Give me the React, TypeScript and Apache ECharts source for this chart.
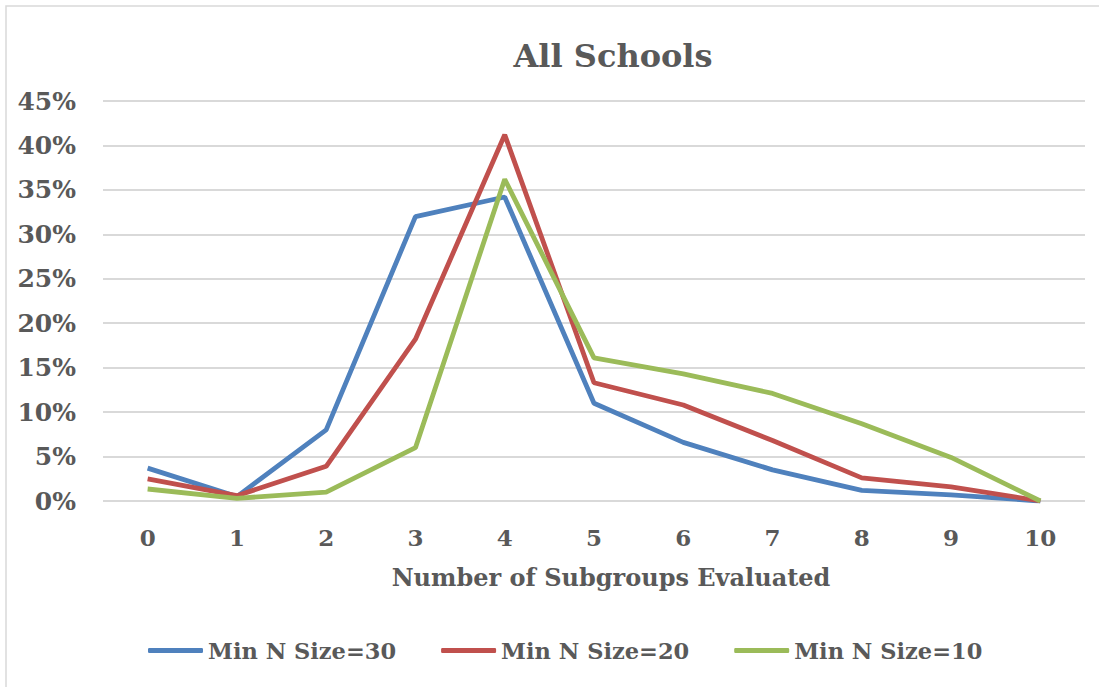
import React, { useEffect, useRef } from "react";
import * as echarts from "echarts";

const categories = ["0", "1", "2", "3", "4", "5", "6", "7", "8", "9", "10"];
const minN30 = [3.7, 0.5, 8.0, 32.0, 34.2, 11.0, 6.6, 3.5, 1.2, 0.7, 0];
const minN20 = [2.5, 0.6, 3.9, 18.2, 41.2, 13.3, 10.8, 6.8, 2.6, 1.6, 0];
const minN10 = [1.35, 0.3, 1.0, 6.0, 36.2, 16.1, 14.3, 12.1, 8.7, 4.9, 0];
const seriesNames = ["Min N Size=30", "Min N Size=20", "Min N Size=10"];
const colors = ["#4F81BD", "#C0504D", "#9BBB59"];

const FONT = "'DejaVu Serif', serif";
const TEXT = "#595959";

export default function App() {
  const ref = useRef<HTMLDivElement>(null);
  useEffect(() => {
    if (!ref.current) return;
    const chart = echarts.init(ref.current, undefined, { renderer: "svg" });
    const data = [minN30, minN20, minN10];
    chart.setOption({
      animation: false,
      backgroundColor: "#ffffff",
      title: {
        text: "All Schools",
        left: 608,
        textAlign: "center",
        top: 35,
        textStyle: { fontFamily: FONT, fontWeight: "bold", fontSize: 32, color: TEXT },
      },
      graphic: [
        {
          type: "rect",
          shape: { x: 6, y: 6, width: 1100, height: 700 },
          style: { fill: "none", stroke: "#D9D9D9", lineWidth: 1.5 },
          silent: true,
        },
      ],
      grid: { left: 103, right: 14, top: 101, bottom: 186 },
      legend: {
        left: 143,
        bottom: 20,
        icon: "roundRect",
        itemWidth: 55,
        itemHeight: 5,
        itemGap: 45,
        data: seriesNames,
        textStyle: { fontFamily: FONT, fontWeight: "bold", fontSize: 22.5, color: TEXT },
      },
      xAxis: {
        type: "category",
        data: categories,
        boundaryGap: true,
        axisLine: { show: false },
        axisTick: { show: false },
        axisLabel: { fontFamily: FONT, fontWeight: "bold", fontSize: 23, color: TEXT, margin: 25 },
        name: "Number of Subgroups Evaluated",
        nameLocation: "middle",
        nameGap: 64,
        nameTextStyle: {
          fontFamily: FONT,
          fontWeight: "bold",
          fontSize: 24,
          color: TEXT,
          padding: [0, 0, 0, 34],
        },
      },
      yAxis: {
        type: "value",
        min: 0,
        max: 45,
        interval: 5,
        axisLine: { show: false },
        axisTick: { show: false },
        splitLine: { lineStyle: { color: "#D9D9D9", width: 2 } },
        axisLabel: {
          formatter: "{value}%",
          fontFamily: FONT,
          fontWeight: "bold",
          fontSize: 25,
          color: TEXT,
          margin: 27,
        },
      },
      series: data.map((d, i) => ({
        name: seriesNames[i],
        type: "line",
        data: d,
        symbol: "none",
        lineStyle: { color: colors[i], width: 4.8 },
        itemStyle: { color: colors[i] },
      })),
    });
    return () => chart.dispose();
  }, []);
  return (
    <div
      ref={ref}
      style={{ position: "fixed", left: 0, top: 0, width: 1099, height: 687 }}
    />
  );
}
